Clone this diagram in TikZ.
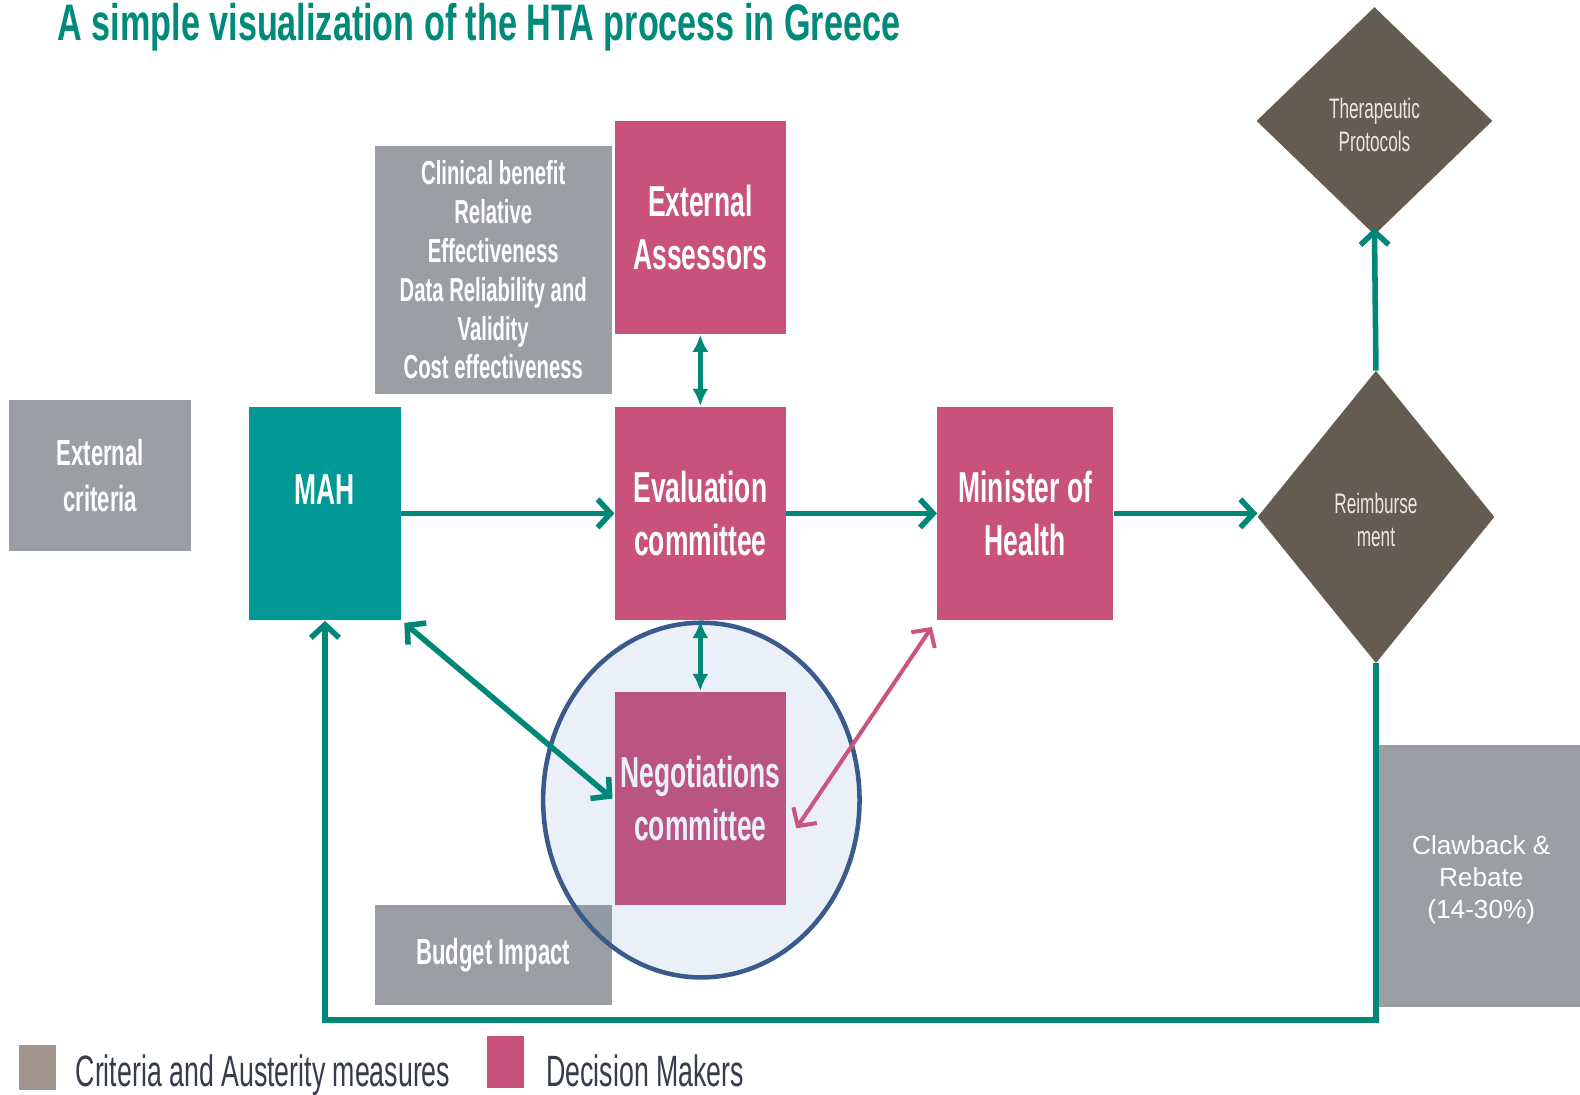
\documentclass[tikz,border=0pt]{standalone}
\usepackage{fontspec}
\setmainfont{Liberation Sans}
\newfontfamily\cond[FakeStretch=0.61]{Liberation Sans}
\newfontfamily\condtitle[FakeStretch=0.665]{Liberation Sans}
\usetikzlibrary{shapes.geometric,arrows.meta}
\definecolor{titlec}{RGB}{0,138,122}
\definecolor{tealc}{RGB}{0,135,120}
\definecolor{mahc}{RGB}{0,153,150}
\definecolor{pinkc}{RGB}{200,82,124}
\definecolor{grayc}{RGB}{155,159,163}
\definecolor{diamc}{RGB}{100,92,80}
\definecolor{leggray}{RGB}{160,148,140}
\definecolor{legtext}{RGB}{55,60,75}
\definecolor{circline}{RGB}{58,90,140}
\definecolor{circfill}{RGB}{68,114,196}
\definecolor{diamtext}{RGB}{235,230,225}
\definecolor{parrc}{RGB}{204,85,128}
\tikzset{
  box/.style={rectangle, inner sep=0pt, text=white, align=center},
  pinkbox/.style={box, fill=pinkc, minimum width=170pt, minimum height=211pt,
    font=\cond\bfseries\fontsize{43}{53}\selectfont},
  graybox/.style={box, fill=grayc},
  dmd/.style={diamond, fill=diamc, inner sep=0pt},
  dmdtxt/.style={inner sep=0pt, text=diamtext, align=center,
    font=\cond\fontsize{28}{33}\selectfont},
  tarr/.style={draw=tealc, line width=5.5pt},
  barbs/.style={-{Straight Barb[length=13pt,width=28pt]}},
  dbarbs/.style={{Straight Barb[length=13pt,width=28pt]}-{Straight Barb[length=13pt,width=28pt]}},
  dlatex/.style={{Latex[length=17pt,width=16pt]}-{Latex[length=17pt,width=16pt]}},
  legtxt/.style={anchor=base west, inner sep=0pt, text=legtext, font=\cond\fontsize{43.5}{50}\selectfont}
}
\begin{document}
\begin{tikzpicture}[x=1pt,y=-1pt]
\useasboundingbox (0,0) rectangle (1568,1086);
\fill[white] (0,0) rectangle (1568,1086);

\node[anchor=base west, inner sep=0pt, text=titlec, font=\condtitle\bfseries\fontsize{51}{60}\selectfont] (title) at (57,40) {A simple visualization of the HTA process in Greece};

\node[graybox, minimum width=235pt, minimum height=246pt, font=\cond\bfseries\fontsize{33}{38.5}\selectfont] (crit) at (489.5,268) {Clinical benefit\\Relative\\Effectiveness\\Data Reliability and\\Validity\\Cost effectiveness};
\node[pinkbox] (extass) at (695,225.5) {External\\Assessors};
\node[graybox, minimum width=181pt, minimum height=150pt, font=\cond\bfseries\fontsize{36}{46}\selectfont] (extcrit) at (99.5,472) {External\\criteria};
\node[box, fill=mahc, minimum width=151pt, minimum height=211pt] (mah) at (322.5,509.5) {};
\node[anchor=base, inner sep=0pt, text=white, font=\cond\bfseries\fontsize{43}{53}\selectfont] (mahlbl) at (322.5,501) {MAH};
\node[pinkbox] (eval) at (695,509.5) {Evaluation\\committee};
\node[pinkbox, minimum width=175pt] (minh) at (1017.5,509.5) {Minister of\\Health};
\node[pinkbox] (neg) at (695,792.5) {Negotiations\\committee};
\node[graybox, minimum width=235pt, minimum height=99pt, font=\cond\bfseries\fontsize{36}{44}\selectfont] (budget) at (489.5,947.5) {Budget Impact};
\node[dmd, minimum width=235pt, minimum height=290pt] (reimb) at (1365.5,513) {};
\node[dmdtxt] (reimbtxt) at (1365.5,516) {Reimburse\\ment};
\node[dmd, minimum width=234pt, minimum height=226pt] (thera) at (1364,120) {};
\node[dmdtxt] (theratxt) at (1364,124) {Therapeutic\\Protocols};
\node[graybox, minimum width=201pt, minimum height=260pt] (claw) at (1467.5,869) {};
\node[inner sep=0pt, text=white, align=center, font=\fontsize{26}{31.5}\selectfont] (clawtxt) at (1470,873) {Clawback \&\\Rebate\\(14-30\%)};

\node[ellipse, draw=circline, line width=4.5pt, fill=circfill, fill opacity=0.1, minimum width=314pt, minimum height=352pt, inner sep=0pt] (hl) at (696,794) {};

\draw[tarr, barbs] (mah.east) -- (eval.west);
\draw[tarr, barbs] (eval.east) -- (minh.west);
\draw[tarr, barbs] (minh.east) -- (minh.east -| reimb.west);
\draw[tarr, dlatex] ([yshift=-1pt]extass.south) -- ([yshift=1pt]eval.north);
\draw[tarr, dlatex] ([yshift=-1pt]eval.south) -- ([yshift=1pt]neg.north);
\draw[tarr, dbarbs] ([shift={(3pt,-3pt)}]mah.south east) -- ([xshift=-2pt]neg.west);
\draw[draw=parrc, line width=4pt, dbarbs] ([shift={(-5pt,-7pt)}]minh.south west) -- ([shift={(10pt,-29.5pt)}]neg.east);
\draw[tarr, barbs] (reimb.north) -- ([yshift=7pt]thera.south);
\coordinate (loopy) at (0,1012);
\draw[tarr, barbs] (reimb.south) -- (reimb.south |- loopy) -- (mah.south |- loopy) -- ([yshift=-1pt]mah.south);

\node[fill=leggray, minimum width=37pt, minimum height=45pt, inner sep=0pt] (lg1) at (37.5,1059.5) {};
\node[legtxt] (lt1) at (75,1078) {Criteria and Austerity measures};
\node[fill=pinkc, minimum width=37pt, minimum height=52pt, inner sep=0pt] (lg2) at (501.5,1054) {};
\node[legtxt] (lt2) at (542,1078) {Decision Makers};
\end{tikzpicture}
\end{document}
